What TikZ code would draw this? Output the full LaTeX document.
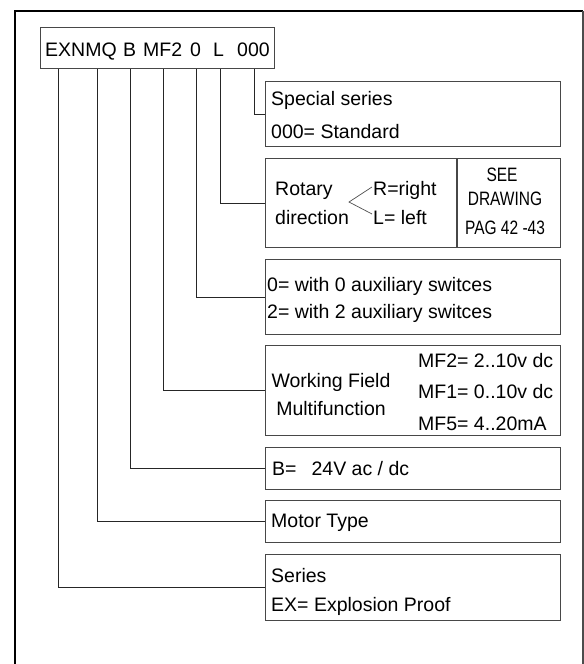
\documentclass[tikz,border=0pt]{standalone}
\usepackage{fontspec}
\setmainfont{Liberation Sans}
\begin{document}
\begin{tikzpicture}[x=1bp,y=-1bp,
  box/.style={draw=black!72, line width=1.1bp, rectangle, inner sep=0pt, anchor=north west},
  conn/.style={draw=black!85, line width=1bp},
  frame/.style={draw=black, line width=2bp},
  txt/.style={inner sep=0pt, anchor=base west, font=\fontsize{19.5bp}{22bp}\selectfont},
  ctxt/.style={inner sep=0pt, anchor=base, font=\fontsize{19.5bp}{22bp}\selectfont},
  small/.style={inner sep=0pt, anchor=base, font=\fontsize{15.5bp}{18bp}\selectfont},
  brk/.style={draw=black!70, line width=0.7bp}]
\useasboundingbox (0,0) rectangle (584,664);
% outer frame
\draw[frame] (15,664) -- (15,11) -- (583,11);
\draw[draw=black!70, line width=1.5bp] (583,11) -- (583,664);
% header
\node[box, minimum width=234bp, minimum height=41bp] (hdr) at (40,27) {};
\node[txt] (h1) at (45,57) {EXNMQ};
\node[txt] (h2) at (123,57) {B};
\node[txt] (h3) at (143,57) {MF2};
\node[txt] (h4) at (190,57) {0};
\node[txt] (h5) at (213,57) {L};
\node[txt] (h6) at (237,57) {000};
% boxes
\node[box, minimum width=295bp, minimum height=65bp] (ss) at (265,81) {};
\node[box, minimum width=295bp, minimum height=89bp] (rot) at (265,158) {};
\node[box, minimum width=295bp, minimum height=75bp] (aux) at (265,259) {};
\node[box, minimum width=295bp, minimum height=90bp] (wf) at (265,345) {};
\node[box, minimum width=295bp, minimum height=42bp] (pw) at (265,447) {};
\node[box, minimum width=295bp, minimum height=42bp] (mt) at (265,500) {};
\node[box, minimum width=295bp, minimum height=66bp] (se) at (265,554) {};
% divider in rotary box
\draw[draw=black!72, line width=1.1bp] ([xshift=192bp]rot.north west) -- ([xshift=192bp]rot.south west);
% connectors
\draw[conn] ([xshift=214bp]hdr.south west) |- (ss.west);
\draw[conn] ([xshift=180bp]hdr.south west) |- (rot.west);
\draw[conn] ([xshift=156bp]hdr.south west) |- (aux.west);
\draw[conn] ([xshift=123bp]hdr.south west) |- (wf.west);
\draw[conn] ([xshift=90bp]hdr.south west) |- (pw.west);
\draw[conn] ([xshift=57bp]hdr.south west) |- (mt.west);
\draw[conn] ([xshift=18bp]hdr.south west) |- (se.west);
% special series
\node[txt] (t1) at (271,106) {Special series};
\node[txt] (t2) at (271,138) {000= Standard};
% rotary
\node[txt] (t3) at (275,195) {Rotary};
\node[txt] (t4) at (275,224) {direction};
\node[txt] (t5) at (373,195) {R=right};
\node[txt] (t6) at (373,224) {L= left};
\coordinate (bu) at (372,187);
\coordinate (ba) at (349,202);
\coordinate (bl) at (372,214);
\draw[brk] (bu) -- (ba) -- (bl);
\node[small] (t7) at (502,181) {\scalebox{1}[1.25]{SEE}};
\node[small] (t8) at (505,205) {\scalebox{1}[1.25]{DRAWING}};
\node[small] (t9) at (505,234) {\scalebox{1}[1.25]{PAG 42 -43}};
% aux
\node[txt] (t10) at (267,291) {0= with 0 auxiliary switces};
\node[txt] (t11) at (267,318) {2= with 2 auxiliary switces};
% working field
\node[ctxt] (t12) at (331,387) {Working Field};
\node[ctxt] (t13) at (331,415) {Multifunction};
\node[txt] (t14) at (418,367) {MF2= 2..10v dc};
\node[txt] (t15) at (418,398) {MF1= 0..10v dc};
\node[txt] (t16) at (418,430) {MF5= 4..20mA};
% power
\node[txt] (t17) at (272,475) {B=\hspace{15bp}24V ac / dc};
% motor
\node[txt] (t18) at (271,527) {Motor Type};
% series
\node[txt] (t19) at (271,582) {Series};
\node[txt] (t20) at (271,611) {EX= Explosion Proof};
\end{tikzpicture}
\end{document}
